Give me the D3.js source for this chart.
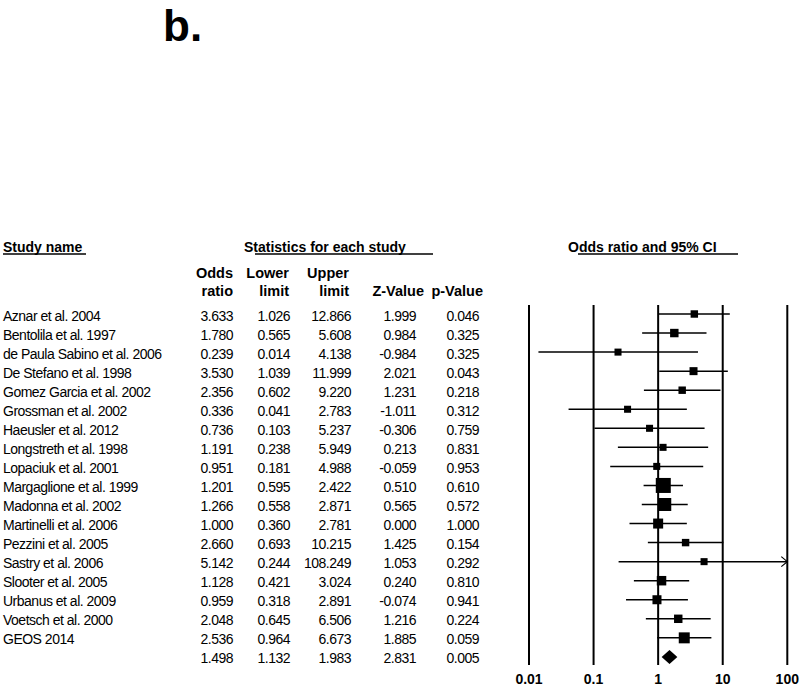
<html>

<head>
    <meta charset="utf-8">
    <title>Forest plot b.</title>
    <style>
        body { margin: 0; background: #fff; }
        text { font-family: "Liberation Sans", Arial, sans-serif; fill: #000; }
    </style>
</head>

<body>
    <script src="https://cdn.jsdelivr.net/npm/d3@7/dist/d3.min.js" charset="utf-8"></script>
    <script>
        // data
        var studies = ["Aznar et al. 2004", "Bentolila et al. 1997", "de Paula Sabino  et al. 2006",
            "De Stefano et al. 1998", "Gomez Garcia et al. 2002", "Grossman et al. 2002",
            "Haeusler et al. 2012", "Longstreth et al. 1998", "Lopaciuk et al. 2001",
            "Margaglione et al. 1999", "Madonna et al. 2002", "Martinelli et al. 2006",
            "Pezzini et al. 2005", "Sastry et al. 2006", "Slooter et al. 2005",
            "Urbanus et al. 2009", "Voetsch et al. 2000", "GEOS 2014"];
        var oddsRatio = [3.633, 1.780, 0.239, 3.530, 2.356, 0.336, 0.736, 1.191, 0.951, 1.201, 1.266, 1.000, 2.660, 5.142, 1.128, 0.959, 2.048, 2.536];
        var lowerLimit = [1.026, 0.565, 0.014, 1.039, 0.602, 0.041, 0.103, 0.238, 0.181, 0.595, 0.558, 0.360, 0.693, 0.244, 0.421, 0.318, 0.645, 0.964];
        var upperLimit = [12.866, 5.608, 4.138, 11.999, 9.220, 2.783, 5.237, 5.949, 4.988, 2.422, 2.871, 2.781, 10.215, 108.249, 3.024, 2.891, 6.506, 6.673];
        var zValue = [1.999, 0.984, -0.984, 2.021, 1.231, -1.011, -0.306, 0.213, -0.059, 0.510, 0.565, 0.000, 1.425, 1.053, 0.240, -0.074, 1.216, 1.885];
        var pValue = [0.046, 0.325, 0.325, 0.043, 0.218, 0.312, 0.759, 0.831, 0.953, 0.610, 0.572, 1.000, 0.154, 0.292, 0.810, 0.941, 0.224, 0.059];
        // relative weights (%)
        var weights = [3.8, 4.9, 3.4, 4.4, 3.8, 3.4, 3.4, 3.4, 3.4, 15.5, 11.6, 6.9, 3.8, 3.4, 6.2, 5.6, 4.9, 8.3];
        // pooled estimate
        var summary = { or: 1.498, lower: 1.132, upper: 1.983, z: 2.831, p: 0.005 };
        var tickValues = [0.01, 0.1, 1, 10, 100];
        var tickLabels = ["0.01", "0.1", "1", "10", "100"];

        var width = 800, height = 687;
        var rowTop = 314, rowStep = 19.05;

        var svg = d3.select("body").append("svg")
            .attr("width", width)
            .attr("height", height);

        var x = d3.scaleLog().domain([0.01, 100]).range([529, 787.3]);
        var size = d3.scaleSqrt().domain([0, 15.5]).range([0, 15]);
        var rowY = function (i) { return rowTop + i * rowStep; };

        // title
        svg.append("text").attr("x", 163).attr("y", 41)
            .style("font-size", "44px").style("font-weight", "bold").text("b.");

        // section headers with underlines
        var headers = [
            { t: "Study name", x: 3, u0: 3, u1: 86 },
            { t: "Statistics for each study", x: 244, u0: 255, u1: 433 },
            { t: "Odds ratio and 95% CI", x: 568, u0: 578, u1: 738 }
        ];
        headers.forEach(function (h) {
            svg.append("text").attr("x", h.x).attr("y", 252)
                .style("font-size", "14px").style("font-weight", "bold")
                .text(h.t);
            svg.append("line").attr("x1", h.u0).attr("x2", h.u1)
                .attr("y1", 254).attr("y2", 254)
                .attr("stroke", "#000").attr("stroke-width", 1.3);
        });

        // column headers
        var colHeads = [
            { a: "Odds", b: "ratio", x: 233 },
            { a: "Lower", b: "limit", x: 289 },
            { a: "Upper", b: "limit", x: 349 },
            { a: "", b: "Z-Value", x: 424 },
            { a: "", b: "p-Value", x: 483 }
        ];
        colHeads.forEach(function (c) {
            var t = svg.append("g").attr("text-anchor", "end")
                .style("font-size", "14.5px").style("font-weight", "bold");
            t.append("text").attr("x", c.x).attr("y", 278).text(c.a);
            t.append("text").attr("x", c.x).attr("y", 296).text(c.b);
        });

        // table body
        var fmt = function (v) { return v.toFixed(3); };
        var rows = studies.map(function (s, i) {
            return { name: s, or: oddsRatio[i], lower: lowerLimit[i], upper: upperLimit[i], z: zValue[i], p: pValue[i], w: weights[i] };
        });
        var cols = [
            { k: "or", x: 233 }, { k: "lower", x: 290 }, { k: "upper", x: 351 },
            { k: "z", x: 416 }, { k: "p", x: 479 }
        ];
        var table = svg.append("g").style("font-size", "14px").style("letter-spacing", "-0.5px");
        table.selectAll(".name").data(rows).enter().append("text")
            .attr("class", "name")
            .attr("x", 3).attr("y", (d, i) => rowY(i) + 6.5)
            .text(d => d.name);
        cols.forEach(function (c) {
            table.selectAll(".c-" + c.k).data(rows.concat([summary])).enter().append("text")
                .attr("class", "c-" + c.k)
                .attr("text-anchor", "end")
                .attr("x", c.x).attr("y", (d, i) => rowY(i) + 6.5)
                .text(d => fmt(d[c.k]));
        });

        // vertical reference lines
        svg.selectAll(".grid").data(tickValues).enter().append("line")
            .attr("x1", d => x(d)).attr("x2", d => x(d))
            .attr("y1", 305).attr("y2", 665)
            .attr("stroke", "#000").attr("stroke-width", 2);

        // axis labels
        svg.selectAll(".tick-label").data(tickValues).enter().append("text")
            .attr("x", d => x(d)).attr("y", 684)
            .attr("text-anchor", "middle")
            .style("font-size", "14px").style("font-weight", "bold")
            .text((d, i) => tickLabels[i]);

        // confidence intervals
        var plot = svg.append("g");
        var clamp = function (v) { return Math.max(0.01, Math.min(100, v)); };
        plot.selectAll(".ci").data(rows).enter().append("line")
            .attr("x1", d => x(clamp(d.lower))).attr("x2", d => x(clamp(d.upper)))
            .attr("y1", (d, i) => rowY(i)).attr("y2", (d, i) => rowY(i))
            .attr("stroke", "#000").attr("stroke-width", 1.5);

        // arrows for intervals beyond the axis
        rows.forEach(function (d, i) {
            if (d.upper > 100) {
                var ax = x(100), ay = rowY(i);
                plot.append("path")
                    .attr("d", "M" + (ax - 6) + "," + (ay - 5) + "L" + ax + "," + ay + "L" + (ax - 6) + "," + (ay + 5))
                    .attr("fill", "none").attr("stroke", "#000").attr("stroke-width", 1.2);
            }
        });

        // study boxes
        plot.selectAll(".box").data(rows).enter().append("rect")
            .attr("x", d => x(d.or) - size(d.w) / 2)
            .attr("y", (d, i) => rowY(i) - size(d.w) / 2)
            .attr("width", d => size(d.w))
            .attr("height", d => size(d.w))
            .attr("fill", "#000");

        // pooled diamond
        var sy = rowY(studies.length);
        plot.append("path")
            .attr("d", "M" + x(summary.lower) + "," + sy +
                "L" + x(summary.or) + "," + (sy - 7) +
                "L" + x(summary.upper) + "," + sy +
                "L" + x(summary.or) + "," + (sy + 7) + "Z")
            .attr("fill", "#000");
    </script>
</body>

</html>
